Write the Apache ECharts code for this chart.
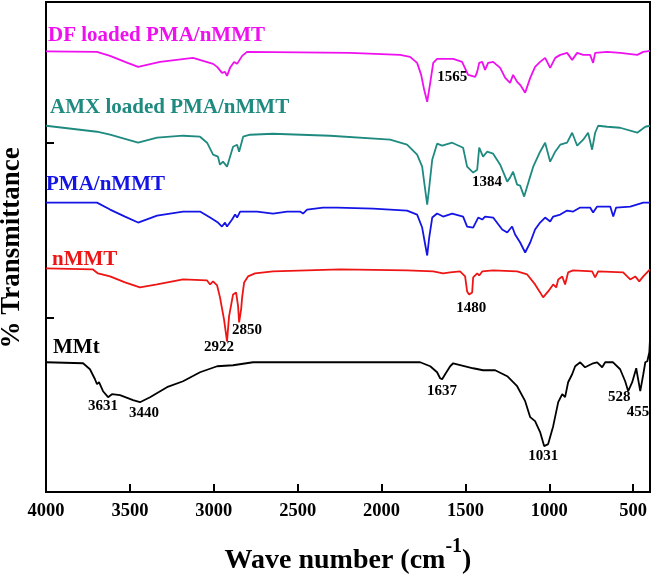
<!DOCTYPE html>
<html>
<head>
<meta charset="utf-8">
<script src="https://cdn.jsdelivr.net/npm/echarts@6/dist/echarts.min.js"></script>
<style>
html,body{margin:0;padding:0;background:#fff;}
#chart{width:653px;height:580px;}
</style>
</head>
<body>
<div id="chart"></div>
<script>
// ---- data: [wavenumber (cm-1), transmittance (arbitrary, offset units)] ----
const dfLoaded = [
 [4000,441.5],[3696,441],[3618,437],[3529,431],[3451,426],[3320,431],[3124,435],[3004,429],[2980,426],
 [2951,420],[2933,421],[2921,417],[2903,425],[2879,431],[2861,429],[2831,437],[2802,441],[2486,440.5],
 [2188,440],[1889,438],[1830,436],[1788,430],[1764,418],[1746,403],[1728,391],[1710,410],[1692,430],
 [1669,434],[1573,434],[1520,431],[1484,418],[1442,416],[1430,421],[1418,430],[1400,431],[1383,423],
 [1365,430],[1335,431],[1293,425],[1263,415],[1234,410],[1216,418],[1192,411],[1174,408],[1144,400],
 [1114,415],[1085,426],[1055,431],[1025,435],[995,425],[965,435],[935,438],[894,440],[864,433],[834,440],
 [798,438],[757,438],[739,430],[727,440],[655,441],[578,440],[476,438],[440,441],[400,442]
];
const amxLoaded = [
 [4000,367],[3696,361],[3618,358],[3451,350],[3338,355],[3183,357],[3082,356],[3040,350],[3004,338],
 [2975,336],[2963,328],[2945,331],[2921,326],[2903,336],[2885,346],[2861,348],[2849,341],[2825,356],
 [2784,358],[2647,359],[2307,357],[1949,353],[1848,348],[1788,338],[1758,326],[1740,303],[1728,288],
 [1716,305],[1698,333],[1669,349],[1639,347],[1579,350],[1514,345],[1490,326],[1454,320],[1430,323],
 [1418,345],[1395,336],[1371,341],[1335,339],[1293,328],[1251,311],[1234,315],[1216,321],[1192,308],
 [1174,307],[1150,296],[1120,313],[1096,326],[1055,341],[1025,350],[995,331],[965,341],[935,348],
 [894,350],[864,360],[834,347],[798,353],[769,360],[745,343],[727,360],[709,367],[655,366],[578,365],
 [476,360],[428,366],[400,367]
];
const pmaNmmt = [
 [4000,290],[3696,290],[3618,283],[3529,276],[3451,270],[3338,277],[3183,281],[3082,281],[3022,275],
 [2975,270],[2951,266],[2933,270],[2921,266],[2891,273],[2873,278],[2861,275],[2843,281],[2742,281],
 [2647,279],[2563,281],[2486,281],[2468,279],[2444,283],[2349,285],[2265,285],[2050,284],[1848,282],
 [1788,278],[1758,265],[1740,248],[1728,237],[1716,255],[1698,275],[1669,279],[1633,276],[1579,279],
 [1514,276],[1490,266],[1454,265],[1424,275],[1400,273],[1383,276],[1335,275],[1281,263],[1251,260],
 [1222,266],[1204,258],[1174,250],[1144,240],[1114,250],[1085,263],[1055,270],[1025,275],[995,271],
 [977,276],[935,278],[894,282],[858,281],[816,285],[757,285],[739,280],[715,286],[637,286],[619,276],
 [602,285],[518,286],[440,290],[400,290]
];
const nmmt = [
 [4000,224],[3720,223],[3690,219],[3618,216],[3529,210],[3440,205],[3338,208],[3183,213],[3040,212],
 [3022,208],[3004,211],[2980,207],[2963,195],[2939,173],[2921,151],[2909,176],[2885,198],[2867,200],
 [2855,186],[2849,170],[2837,183],[2831,195],[2819,210],[2796,216],[2754,219],[2647,221],[2247,223],
 [1848,222],[1692,221],[1633,219],[1591,220],[1532,221],[1502,216],[1490,201],[1478,198],[1460,200],
 [1454,215],[1430,219],[1418,217],[1400,221],[1335,222],[1192,221],[1132,218],[1085,208],[1055,200],
 [1037,195],[1007,201],[977,208],[959,205],[947,213],[923,216],[906,208],[888,220],[858,222],[745,221],
 [727,215],[709,221],[560,220],[518,213],[488,216],[464,211],[440,216],[400,223]
];
const mmt = [
 [4000,130],[3779,129],[3738,123],[3708,113],[3696,108],[3684,110],[3660,101],[3630,95],[3607,98],
 [3559,97],[3481,92],[3440,90],[3380,95],[3279,105],[3183,111],[3082,120],[2980,126],[2885,127],
 [2766,130],[1830,130],[1770,130],[1710,126],[1669,120],[1651,114],[1639,113],[1621,118],[1591,126],
 [1573,129],[1454,124],[1395,122],[1323,122],[1251,116],[1192,106],[1144,91],[1114,75],[1085,71],
 [1055,60],[1031,46],[1007,48],[977,66],[947,90],[923,98],[906,95],[888,110],[864,118],[846,126],
 [816,130],[787,125],[739,129],[715,130],[685,125],[667,130],[620,130],[578,123],[548,111],[530,101],
 [506,110],[482,124],[476,118],[458,101],[440,118],[428,130],[416,131],[404,140],[400,153]
];
const seriesNames = ['DF loaded PMA/nMMT','AMX loaded PMA/nMMT','PMA/nMMT','nMMT','MMt'];
const xTicks = [500,1000,1500,2000,2500,3000,3500,4000];
// curve-name labels: [text, wavenumber, level]
const nameLabels = [
 ['DF loaded PMA/nMMT',3988,457],
 ['AMX loaded PMA/nMMT',3976,385],
 ['PMA/nMMT',4000,308],
 ['nMMT',3964,233],
 ['MMt',3958,145]
];
// peak labels: [text, wavenumber, level]
const peakLabels = [
 ['1565',1579,416],['1384',1371,311],['2922',2969,145],['2850',2802,162],['1480',1466,184],
 ['3631',3660,86],['3440',3416,79],['1637',1639,101],['1031',1037,36],['528',584,95],['455',471,80]
];

const colors = ['#ee10ee','#1f8a80','#1414e6','#ee1515','#000000'];
const FONT = '"Times New Roman","Liberation Serif",serif';
const curves = [dfLoaded, amxLoaded, pmaNmmt, nmmt, mmt];

const chart = echarts.init(document.getElementById('chart'), null, {renderer:'canvas'});

const series = curves.map((d,i)=>({
  type:'line', name:seriesNames[i], data:d, showSymbol:false, symbol:'none',
  lineStyle:{color:colors[i], width:1.8}, itemStyle:{color:colors[i]}, animation:false, silent:true, z:3
}));

series.push({
  type:'scatter', symbolSize:0, silent:true, animation:false, clip:false, z:5,
  itemStyle:{opacity:1},
  data: nameLabels.map((l,i)=>({
    value:[l[1],l[2]], name:l[0],
    label:{show:true, position:[0,0], align:'left', verticalAlign:'middle', formatter:'{b}',
      color:colors[i], fontFamily:FONT, fontWeight:'bold', fontSize:21}
  }))
});
series.push({
  type:'scatter', symbolSize:0, silent:true, animation:false, clip:false, z:5,
  itemStyle:{opacity:1},
  data: peakLabels.map(l=>({
    value:[l[1],l[2]], name:l[0],
    label:{show:true, position:[0,0], align:'center', verticalAlign:'middle', formatter:'{b}',
      color:'#000', fontFamily:FONT, fontWeight:'bold', fontSize:15}
  }))
});

chart.setOption({
  backgroundColor:'#fff',
  animation:false,
  grid:{left:46, right:3, top:2, bottom:87, show:true, borderColor:'#000', borderWidth:2, backgroundColor:'transparent'},
  xAxis:{
    type:'value', min:400, max:4000, inverse:true,
    axisLine:{show:true, lineStyle:{color:'#000', width:2}},
    axisTick:{show:true, inside:true, length:8, lineStyle:{color:'#000', width:2}, customValues:xTicks},
    axisLabel:{show:true, customValues:xTicks, formatter:v=>String(v), color:'#000', fontFamily:FONT, fontWeight:'bold', fontSize:18.5, margin:10},
    splitLine:{show:false},
    name:'{b|Wave number (cm}{s|-1}{b|)}',
    nameLocation:'middle', nameGap:53,
    nameTextStyle:{
      rich:{
        b:{fontFamily:FONT, fontWeight:'bold', fontSize:28, lineHeight:30, color:'#000', verticalAlign:'bottom'},
        s:{fontFamily:FONT, fontWeight:'bold', fontSize:20, lineHeight:20, color:'#000', verticalAlign:'bottom', padding:[0,0,18,0]}
      }
    }
  },
  yAxis:{
    type:'value', min:0, max:491, interval:175,
    axisLine:{show:true, lineStyle:{color:'#000', width:2}},
    axisTick:{show:true, inside:true, length:8, lineStyle:{color:'#000', width:2}},
    axisLabel:{show:false},
    splitLine:{show:false}
  },
  graphic:[{
    type:'text', x:12, y:248, rotation:Math.PI/2,
    style:{text:'% Transmittance', fill:'#000', font:'bold 27px '+FONT, align:'center', verticalAlign:'middle'}
  }],
  series:series
});
</script>
</body>
</html>
